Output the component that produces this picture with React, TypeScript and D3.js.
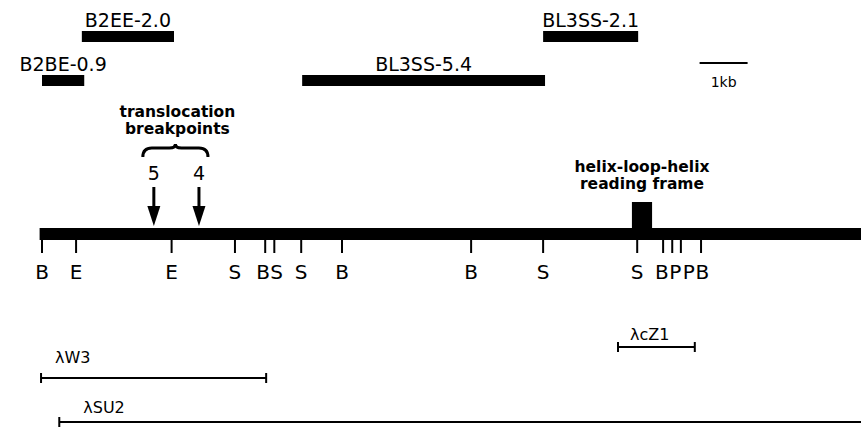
import React from "react";
import * as d3 from "d3";

// map in kb, 0 = leftmost BamHI site
const mapStart = -0.05;
const mapEnd = 17.3;

const siteNames = ["B", "E", "E", "S", "B", "S", "S", "B", "B", "S", "S", "B", "P", "P", "B"];
const siteKb = [0, 0.71, 2.7, 4.02, 4.65, 4.84, 5.4, 6.25, 8.94, 10.44, 12.4, 12.94, 13.13, 13.31, 13.73];

const probeNames = ["B2EE-2.0", "B2BE-0.9", "BL3SS-5.4", "BL3SS-2.1"];
const probeStart = [0.83, 0, 5.42, 10.44];
const probeEnd = [2.75, 0.88, 10.48, 12.42];
const probeRow = [0, 1, 1, 0];

const breakNames = ["5", "4"];
const breakKb = [2.33, 3.27];

const hlhStart = 12.29;
const hlhEnd = 12.71;

const cloneNames = ["\u03bbcZ1", "\u03bbW3", "\u03bbSU2"];
const cloneStart = [12.0, -0.02, 0.36];
const cloneEnd = [13.6, 4.67, 18];

const scaleAt = 13.7;
const scaleKb = 1;

const W = 861;
const H = 429;
const FONT = "DejaVu Sans";

// label placement for the clone rows
const cloneLabelDx = [12, 14, 24];
const cloneLabelLift = [7, 15, 9];

const App = () => {
  const x = d3.scaleLinear().domain([0, 1]).range([42, 90]);

  const barY = 228;
  const barH = 12;
  const rowY = d3.scaleOrdinal<number, number>().domain([0, 1]).range([31, 75]);
  const cloneY = d3.scaleOrdinal<number, number>().domain([0, 1, 2]).range([347, 378, 422]);

  // spread crowded site labels
  const minGap = 13.5;
  const ticks = siteKb.map((k) => x(k));
  const lab = [...ticks];
  for (let i = 1; i < lab.length; i++) {
    if (lab[i] - lab[i - 1] < minGap) lab[i] = lab[i - 1] + minGap;
  }
  let i0 = 0;
  while (i0 < lab.length) {
    let i1 = i0;
    while (i1 + 1 < lab.length && lab[i1 + 1] - lab[i1] <= minGap + 0.01) i1++;
    if (i1 > i0) {
      const shift = (lab[i0] - ticks[i0] + lab[i1] - ticks[i1]) / 2;
      for (let k = i0; k <= i1; k++) lab[k] -= shift;
    }
    i0 = i1 + 1;
  }

  const bx5 = x(breakKb[0]);
  const bx4 = x(breakKb[1]);
  const bl = bx5 - 11;
  const br = bx4 + 9;
  const bm = (bl + br) / 2;
  const brace = `M${bl},157 Q${bl},148 ${bl + 9},148 L${bm - 6},148 Q${bm},148 ${bm},144 Q${bm},148 ${bm + 6},148 L${br - 9},148 Q${br},148 ${br},157`;

  const hlhMid = x((hlhStart + hlhEnd) / 2);

  return (
    <svg
      width={W}
      height={H}
      style={{ position: "absolute", left: 0, top: 0, background: "#fff" }}
      fontFamily={FONT}
    >
      <rect width={W} height={H} fill="#fff" />

      {/* probes */}
      {probeNames.map((n, i) => (
        <g key={n}>
          <rect
            x={x(probeStart[i])}
            y={rowY(probeRow[i])}
            width={x(probeEnd[i]) - x(probeStart[i])}
            height={11}
            fill="#000"
          />
          <text
            x={(x(probeStart[i]) + x(probeEnd[i])) / 2}
            y={rowY(probeRow[i]) - 4}
            textAnchor="middle"
            fontSize={19}
          >
            {n}
          </text>
        </g>
      ))}

      {/* scale bar */}
      <line x1={x(scaleAt)} x2={x(scaleAt + scaleKb)} y1={63} y2={63} stroke="#000" strokeWidth={2} />
      <text x={x(scaleAt + scaleKb / 2)} y={87} textAnchor="middle" fontSize={14}>
        1kb
      </text>

      {/* breakpoints */}
      <text x={bm + 2} y={117} textAnchor="middle" fontSize={15.5} fontWeight="bold">
        translocation
      </text>
      <text x={bm + 2} y={134} textAnchor="middle" fontSize={15.5} fontWeight="bold">
        breakpoints
      </text>
      <path d={brace} fill="none" stroke="#000" strokeWidth={3} />
      {breakNames.map((n, i) => {
        const bx = x(breakKb[i]);
        return (
          <g key={n}>
            <text x={bx} y={180} textAnchor="middle" fontSize={19}>
              {n}
            </text>
            <line x1={bx} x2={bx} y1={187} y2={208} stroke="#000" strokeWidth={3} />
            <path d={`M${bx - 6.5},206 L${bx + 6.5},206 L${bx},226 Z`} fill="#000" />
          </g>
        );
      })}

      {/* helix-loop-helix */}
      <text x={hlhMid} y={172} textAnchor="middle" fontSize={15.5} fontWeight="bold">
        helix-loop-helix
      </text>
      <text x={hlhMid} y={189} textAnchor="middle" fontSize={15.5} fontWeight="bold">
        reading frame
      </text>
      <rect
        x={x(hlhStart)}
        y={202}
        width={x(hlhEnd) - x(hlhStart)}
        height={barY - 202 + 1}
        fill="#000"
      />

      {/* genomic map */}
      <rect x={x(mapStart)} y={barY} width={x(mapEnd) - x(mapStart)} height={barH} fill="#000" />
      {siteNames.map((n, i) => (
        <g key={i}>
          <line x1={ticks[i]} x2={ticks[i]} y1={barY + barH} y2={253} stroke="#000" strokeWidth={2} />
          <text x={lab[i]} y={279} textAnchor="middle" fontSize={20}>
            {n}
          </text>
        </g>
      ))}

      {/* clones */}
      {cloneNames.map((n, i) => {
        const y = cloneY(i);
        const x1 = x(cloneStart[i]);
        const x2 = Math.min(x(cloneEnd[i]), W + 5);
        return (
          <g key={n}>
            <line x1={x1} x2={x2} y1={y} y2={y} stroke="#000" strokeWidth={2} />
            <line x1={x1} x2={x1} y1={y - 5} y2={y + 5} stroke="#000" strokeWidth={2} />
            {x(cloneEnd[i]) < W && (
              <line x1={x2} x2={x2} y1={y - 5} y2={y + 5} stroke="#000" strokeWidth={2} />
            )}
            <text x={x1 + cloneLabelDx[i]} y={y - cloneLabelLift[i]} fontSize={16}>
              {n}
            </text>
          </g>
        );
      })}
    </svg>
  );
};

export default App;
